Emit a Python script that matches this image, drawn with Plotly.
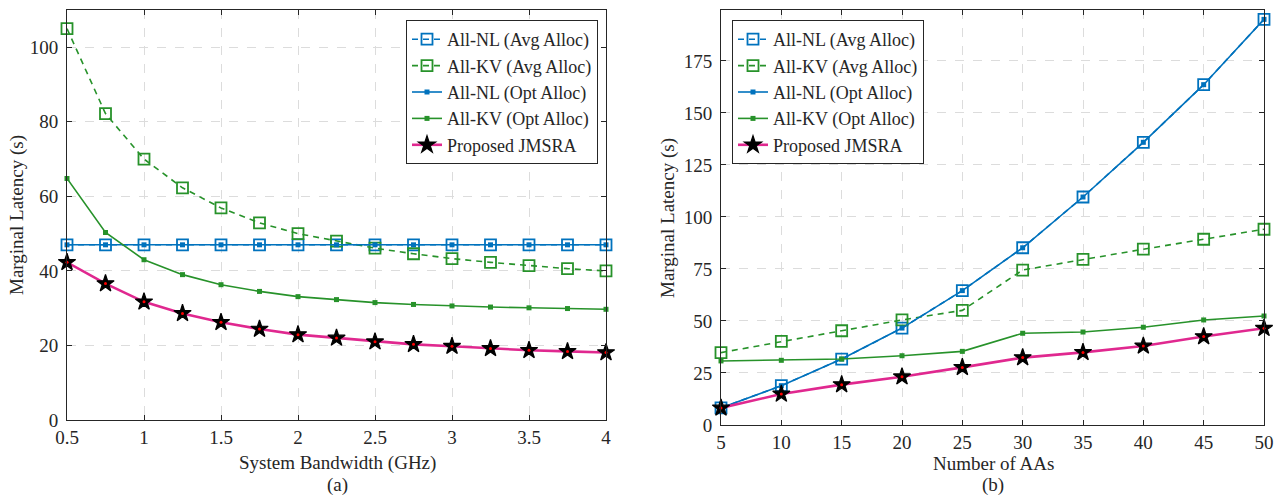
import plotly.graph_objects as go

# ---------------- data: (a) ----------------
bw = [0.5, 0.75, 1.0, 1.25, 1.5, 1.75, 2.0, 2.25, 2.5, 2.75, 3.0, 3.25, 3.5, 3.75, 4.0]
a_nl_avg = [47.0] * 15
a_kv_avg = [105.0, 82.2, 70.0, 62.3, 56.9, 52.9, 50.0, 48.0, 46.1, 44.6, 43.3, 42.3, 41.4, 40.6, 40.0]
a_nl_opt = [47.0] * 15
a_kv_opt = [64.8, 50.3, 43.0, 39.0, 36.3, 34.5, 33.1, 32.3, 31.5, 31.0, 30.6, 30.3, 30.1, 29.9, 29.7]
a_prop = [42.3, 36.6, 31.7, 28.6, 26.2, 24.4, 22.9, 22.0, 21.0, 20.3, 19.8, 19.2, 18.7, 18.4, 18.1]

# ---------------- data: (b) ----------------
aas = [5, 10, 15, 20, 25, 30, 35, 40, 45, 50]
b_nl_avg = [8.2, 18.9, 31.7, 46.6, 64.6, 85.2, 109.6, 135.9, 163.6, 195.0]
b_kv_avg = [34.8, 40.2, 45.3, 50.5, 55.1, 74.5, 79.6, 84.5, 89.3, 94.1]
b_nl_opt = [8.2, 18.9, 31.7, 46.6, 64.6, 85.2, 109.6, 135.9, 163.6, 195.0]
b_kv_opt = [30.8, 31.1, 31.7, 33.3, 35.4, 44.1, 44.7, 47.0, 50.5, 52.4]
b_prop = [8.2, 14.9, 19.4, 23.2, 27.7, 32.4, 34.9, 38.0, 42.5, 46.5]

names = ["All-NL (Avg Alloc)", "All-KV (Avg Alloc)", "All-NL (Opt Alloc)",
         "All-KV (Opt Alloc)", "Proposed JMSRA"]

BLUE = "#0072BD"
GREEN = "#27922A"
PINK = "#E0288F"
FONT = "Liberation Serif, Times New Roman, serif"
FS = 19
INK = "#262626"

fig = go.Figure()


def add_panel(x, series, xa, ya, leg):
    nl_avg, kv_avg, nl_opt, kv_opt, prop = series
    fig.add_trace(go.Scatter(
        x=x, y=nl_avg, name=names[0], mode="lines+markers", xaxis=xa, yaxis=ya, legend=leg,
        line=dict(color=BLUE, width=1.6, dash="6px,5px"),
        marker=dict(symbol="square-open", size=11, color=BLUE, line=dict(width=1.8, color=BLUE)),
        cliponaxis=False))
    fig.add_trace(go.Scatter(
        x=x, y=kv_avg, name=names[1], mode="lines+markers", xaxis=xa, yaxis=ya, legend=leg,
        line=dict(color=GREEN, width=1.6, dash="6px,5px"),
        marker=dict(symbol="square-open", size=11, color=GREEN, line=dict(width=1.8, color=GREEN)),
        cliponaxis=False))
    fig.add_trace(go.Scatter(
        x=x, y=nl_opt, name=names[2], mode="lines+markers", xaxis=xa, yaxis=ya, legend=leg,
        line=dict(color=BLUE, width=1.6),
        marker=dict(symbol="square", size=5, color=BLUE),
        cliponaxis=False))
    fig.add_trace(go.Scatter(
        x=x, y=kv_opt, name=names[3], mode="lines+markers", xaxis=xa, yaxis=ya, legend=leg,
        line=dict(color=GREEN, width=1.6),
        marker=dict(symbol="square", size=5, color=GREEN),
        cliponaxis=False))
    fig.add_trace(go.Scatter(
        x=x, y=prop, name=names[4], mode="lines+markers", xaxis=xa, yaxis=ya, legend=leg,
        line=dict(color=PINK, width=2.6),
        marker=dict(symbol="star", size=13, color="black", line=dict(width=1.2, color="black")),
        cliponaxis=False))
    fig.add_trace(go.Scatter(
        x=x, y=prop, showlegend=False, mode="markers", xaxis=xa, yaxis=ya, hoverinfo="skip",
        marker=dict(symbol="circle", size=3, color="red"),
        cliponaxis=False))


add_panel(bw, [a_nl_avg, a_kv_avg, a_nl_opt, a_kv_opt, a_prop], "x", "y", "legend")
add_panel(aas, [b_nl_avg, b_kv_avg, b_nl_opt, b_kv_opt, b_prop], "x2", "y2", "legend2")

W, H = 1283, 497


def px_x(p):
    return p / W


def px_y(p):
    return (H - p) / H


axis_common = dict(
    showline=True, linecolor=INK, linewidth=1, mirror="ticks",
    ticks="inside", ticklen=5, tickcolor=INK,
    showgrid=True, gridcolor="#DCDCDC", griddash="dash", gridwidth=1,
    zeroline=False, automargin=False,
    tickfont=dict(family=FONT, size=FS, color=INK),
)

legend_common = dict(
    font=dict(family=FONT, size=18, color=INK),
    bgcolor="white", bordercolor=INK, borderwidth=1,
    tracegroupgap=0, itemwidth=30,
)

fig.update_layout(
    width=W, height=H,
    margin=dict(l=0, r=0, t=0, b=0, autoexpand=False),
    paper_bgcolor="white", plot_bgcolor="white",
    font=dict(family=FONT, size=FS, color=INK),
    xaxis=dict(domain=[px_x(67), px_x(606)], range=[0.5, 4],
               tickvals=[0.5, 1, 1.5, 2, 2.5, 3, 3.5, 4],
               ticktext=["0.5", "1", "1.5", "2", "2.5", "3", "3.5", "4"],
               ticklabelstandoff=0, anchor="y", **axis_common),
    yaxis=dict(domain=[px_y(420), px_y(10)], range=[0, 110],
               tickvals=[0, 20, 40, 60, 80, 100], ticklabelstandoff=4,
               anchor="x", **axis_common),
    xaxis2=dict(domain=[px_x(721), px_x(1264)], range=[5, 50],
                tickvals=[5, 10, 15, 20, 25, 30, 35, 40, 45, 50],
                ticklabelstandoff=0, anchor="y2", **axis_common),
    yaxis2=dict(domain=[px_y(425), px_y(10)], range=[0, 199.5],
                tickvals=[0, 25, 50, 75, 100, 125, 150, 175], ticklabelstandoff=4,
                anchor="x2", **axis_common),
    legend=dict(x=px_x(598), y=px_y(20), xanchor="right", yanchor="top", **legend_common),
    legend2=dict(x=px_x(732), y=px_y(20), xanchor="left", yanchor="top", **legend_common),
)

annots = [
    ("System Bandwidth (GHz)", 337, 463, 0),
    ("(a)", 337, 485, 0),
    ("Number of AAs", 993, 463, 0),
    ("(b)", 993, 485, 0),
    ("Marginal Latency (s)", 17, 215, -90),
    ("Marginal Latency (s)", 668, 218, -90),
]
for text, ax_, ay_, rot in annots:
    fig.add_annotation(text=text, x=px_x(ax_), y=px_y(ay_), xref="paper", yref="paper",
                       showarrow=False, textangle=rot, xanchor="center", yanchor="middle",
                       borderpad=0,
                       font=dict(family=FONT, size=FS, color=INK))

fig.write_html("out.html")
